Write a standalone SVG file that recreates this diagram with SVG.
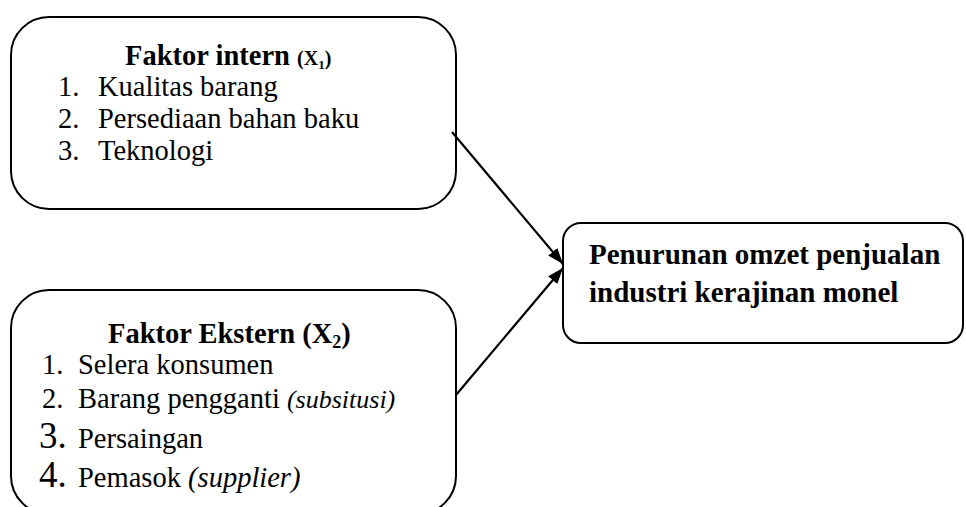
<svg xmlns="http://www.w3.org/2000/svg" width="966" height="507" viewBox="0 0 966 507">
<defs>
<style>
.box{fill:#fff;stroke:#000;stroke-width:2}
.t{font-family:"Liberation Serif","Times New Roman",serif;fill:#000;font-size:28.5px}
.b{font-weight:bold}
.i{font-style:italic}
.con{stroke:#000;stroke-width:2.2;fill:none}
</style>
<marker id="ah" viewBox="0 0 16 12" refX="16" refY="6" markerWidth="16" markerHeight="12" markerUnits="userSpaceOnUse" orient="auto">
<path d="M0,0 L16,6 L0,12 z" fill="#000"/>
</marker>
</defs>
<rect width="966" height="507" fill="#fff"/>
<g id="node-intern">
<rect class="box" x="11" y="17" width="445" height="192" rx="38" ry="38"/>
<text class="t b" x="125" y="65">Faktor intern <tspan style="font-size:20px">(X<tspan style="font-size:13px" dy="4">1</tspan><tspan dy="-4">)</tspan></tspan></text>
<text class="t" x="58" y="96">1.</text><text class="t" x="98" y="96">Kualitas barang</text>
<text class="t" x="58" y="128">2.</text><text class="t" x="98" y="128">Persediaan bahan baku</text>
<text class="t" x="58" y="160">3.</text><text class="t" x="98" y="160">Teknologi</text>
</g>
<g id="node-ekstern">
<rect class="box" x="11" y="290" width="445" height="224" rx="38" ry="38"/>
<text class="t b" x="108" y="343">Faktor Ekstern (X<tspan style="font-size:18px" dy="5">2</tspan><tspan dy="-5">)</tspan></text>
<text class="t" x="42" y="374">1.</text><text class="t" x="78" y="374">Selera konsumen</text>
<text class="t" x="42" y="408">2.</text><text class="t" x="78" y="408">Barang pengganti <tspan class="i" style="font-size:26px">(subsitusi)</tspan></text>
<text class="t" x="39" y="448" style="font-size:37px">3.</text><text class="t" x="78" y="448">Persaingan</text>
<text class="t" x="39" y="487" style="font-size:37px">4.</text><text class="t" x="78" y="487">Pemasok <tspan class="i" style="font-size:28.5px">(supplier)</tspan></text>
</g>
<g id="node-omzet">
<rect class="box" x="563" y="223" width="400" height="120" rx="18" ry="18"/>
<text class="t b" x="589" y="264" style="font-size:29px">Penurunan omzet penjualan</text>
<text class="t b" x="589" y="302" style="font-size:29px">industri kerajinan monel</text>
</g>
<g id="connectors">
<line class="con" x1="452" y1="132" x2="563" y2="264" marker-end="url(#ah)"/>
<line class="con" x1="456" y1="395" x2="563" y2="268" marker-end="url(#ah)"/>
</g>
</svg>
